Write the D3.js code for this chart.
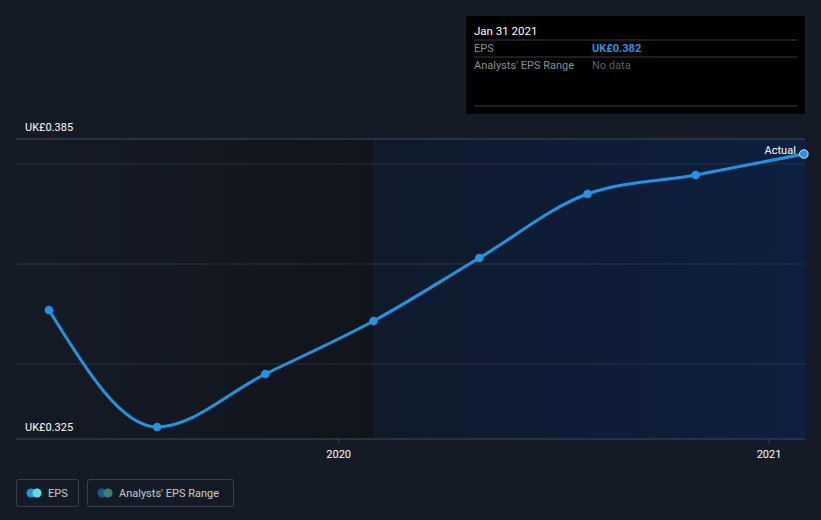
<!DOCTYPE html>
<html><head><meta charset="utf-8">
<script src="https://cdn.jsdelivr.net/npm/d3@7/dist/d3.min.js"></script>
<style>
html,body{margin:0;padding:0;background:#151b26;}
svg{display:block;font-family:Roboto,"Open Sans",sans-serif;}
</style></head><body>
<svg id="c" width="821" height="520"></svg>
<script>
const dates = ["2019-04-30","2019-07-31","2019-10-31","2020-01-31","2020-04-30","2020-07-31","2020-10-31","2021-01-31"];
const eps = [0.3508,0.3274,0.3380,0.3486,0.3612,0.3740,0.3778,0.382];
const yTicks = [0.34,0.36,0.38];
const yLabels = ["UK£0.385","UK£0.325"];
const xTicks = ["2020-01-01","2021-01-01"];
const tooltipTitle = "Jan 31 2021";
const tooltipRows = [["EPS","UK£0.382"],["Analysts' EPS Range","No data"]];
const legendItems = ["EPS","Analysts' EPS Range"];

const parse = d3.utcParse("%Y-%m-%d");
const data = dates.map((d,i)=>({t:parse(d), v:eps[i]}));
const svg = d3.select("#c");
const L=16, R=805, T=139, B=439;
const x = d3.scaleUtc().domain([parse("2019-04-02"), parse("2021-02-01")]).range([L,R]);
const y = d3.scaleLinear().domain([0.325,0.385]).range([B,T]);

const defs = svg.append("defs");
const g1 = defs.append("linearGradient").attr("id","past").attr("x1","0").attr("x2","1");
g1.append("stop").attr("offset","0").attr("stop-color","#151b26");
g1.append("stop").attr("offset","1").attr("stop-color","#10141b");
const g2 = defs.append("linearGradient").attr("id","fut").attr("x1","0").attr("x2","1");
g2.append("stop").attr("offset","0").attr("stop-color","#0f1a2b");
g2.append("stop").attr("offset","1").attr("stop-color","#0c2041");

const split = x(data[3].t);
svg.append("rect").attr("x",L).attr("y",T).attr("width",split-L).attr("height",B-T).attr("fill","url(#past)");
svg.append("rect").attr("x",split).attr("y",T).attr("width",R-split).attr("height",B-T).attr("fill","url(#fut)");
svg.append("rect").attr("x",split).attr("y",T).attr("width",2).attr("height",B-T).attr("fill","#111e31");

// gridlines
svg.selectAll(".grid").data(yTicks).enter().append("line")
  .attr("x1",L).attr("x2",R).attr("y1",d=>y(d)).attr("y2",d=>y(d))
  .attr("stroke","#2a303b").attr("stroke-width",1);
svg.append("line").attr("x1",L).attr("x2",R).attr("y1",y(0.385)).attr("y2",y(0.385)).attr("stroke","#444a55");
svg.append("line").attr("x1",L).attr("x2",R).attr("y1",y(0.325)).attr("y2",y(0.325)).attr("stroke","#444a55");

// y labels
svg.append("text").attr("x",25).attr("y",y(0.385)-8).attr("fill","#ffffff").attr("font-size",11).text(yLabels[0]);
svg.append("text").attr("x",25).attr("y",y(0.325)-8).attr("fill","#ffffff").attr("font-size",11).text(yLabels[1]);

// x axis
const xa = svg.append("g").attr("transform",`translate(0,${B})`)
  .call(d3.axisBottom(x).tickValues(xTicks.map(parse)).tickFormat(d3.utcFormat("%Y")).tickSize(4).tickSizeOuter(0));
xa.select(".domain").remove();
xa.selectAll("line").attr("stroke","#444a55");
xa.selectAll("text").attr("fill","#ffffff").attr("font-size",11).attr("dy","1.1em").attr("font-family","Roboto,sans-serif");

// line
const line = d3.line().x(d=>x(d.t)).y(d=>y(d.v)).curve(d3.curveMonotoneX);
svg.append("path").datum(data).attr("d",line).attr("fill","none").attr("stroke","#2394df").attr("stroke-width",3);
svg.selectAll(".pt").data(data).enter().append("circle")
  .attr("cx",d=>x(d.t)).attr("cy",d=>y(d.v)).attr("r",4.3)
  .attr("fill","#2394df").attr("stroke",(d,i)=>i===data.length-1?"#cfe6f8":"none").attr("stroke-width",1);

const last = data[data.length-1];
svg.append("text").attr("x",x(last.t)-8).attr("y",y(last.v)-0.5).attr("text-anchor","end")
  .attr("fill","#ffffff").attr("font-size",11).text("Actual");

// tooltip
const tt = svg.append("g").attr("transform","translate(466,16)");
tt.append("rect").attr("width",339).attr("height",98).attr("fill","#000000");
tt.append("text").attr("x",8).attr("y",19).attr("fill","#ffffff").attr("font-size",11.5).text(tooltipTitle);
[24,41,90].forEach(yy=>tt.append("line").attr("x1",8).attr("x2",331).attr("y1",yy).attr("y2",yy).attr("stroke","#3a3d42"));
tooltipRows.forEach((r,i)=>{
  tt.append("text").attr("x",8).attr("y",36+i*17).attr("fill","#8b8e93").attr("font-size",11).text(r[0]);
  tt.append("text").attr("x",126).attr("y",36+i*17).attr("fill",i===0?"#2394df":"#5d6066")
    .attr("font-size",11).attr("font-weight",i===0?"bold":"normal").text(r[1]);
});

// legend
const lg = svg.append("g");
const widths=[62,146], xs=[16,87];
const colors=[["#2394df","#5ce0d8"],["#1f5a86","#3b7f7b"]];
legendItems.forEach((t,i)=>{
  const gg = lg.append("g").attr("transform",`translate(${xs[i]},479)`);
  gg.append("rect").attr("x",0.5).attr("y",0.5).attr("width",widths[i]).attr("height",27).attr("rx",2)
    .attr("fill","none").attr("stroke","#3c424d");
  gg.append("circle").attr("cx",15).attr("cy",14).attr("r",4.5).attr("fill",colors[i][0]);
  gg.append("circle").attr("cx",21).attr("cy",14).attr("r",4.5).attr("fill",colors[i][1]);
  gg.append("text").attr("x",32).attr("y",18).attr("fill","#c8cbd0").attr("font-size",11).text(t);
});
</script></body></html>
